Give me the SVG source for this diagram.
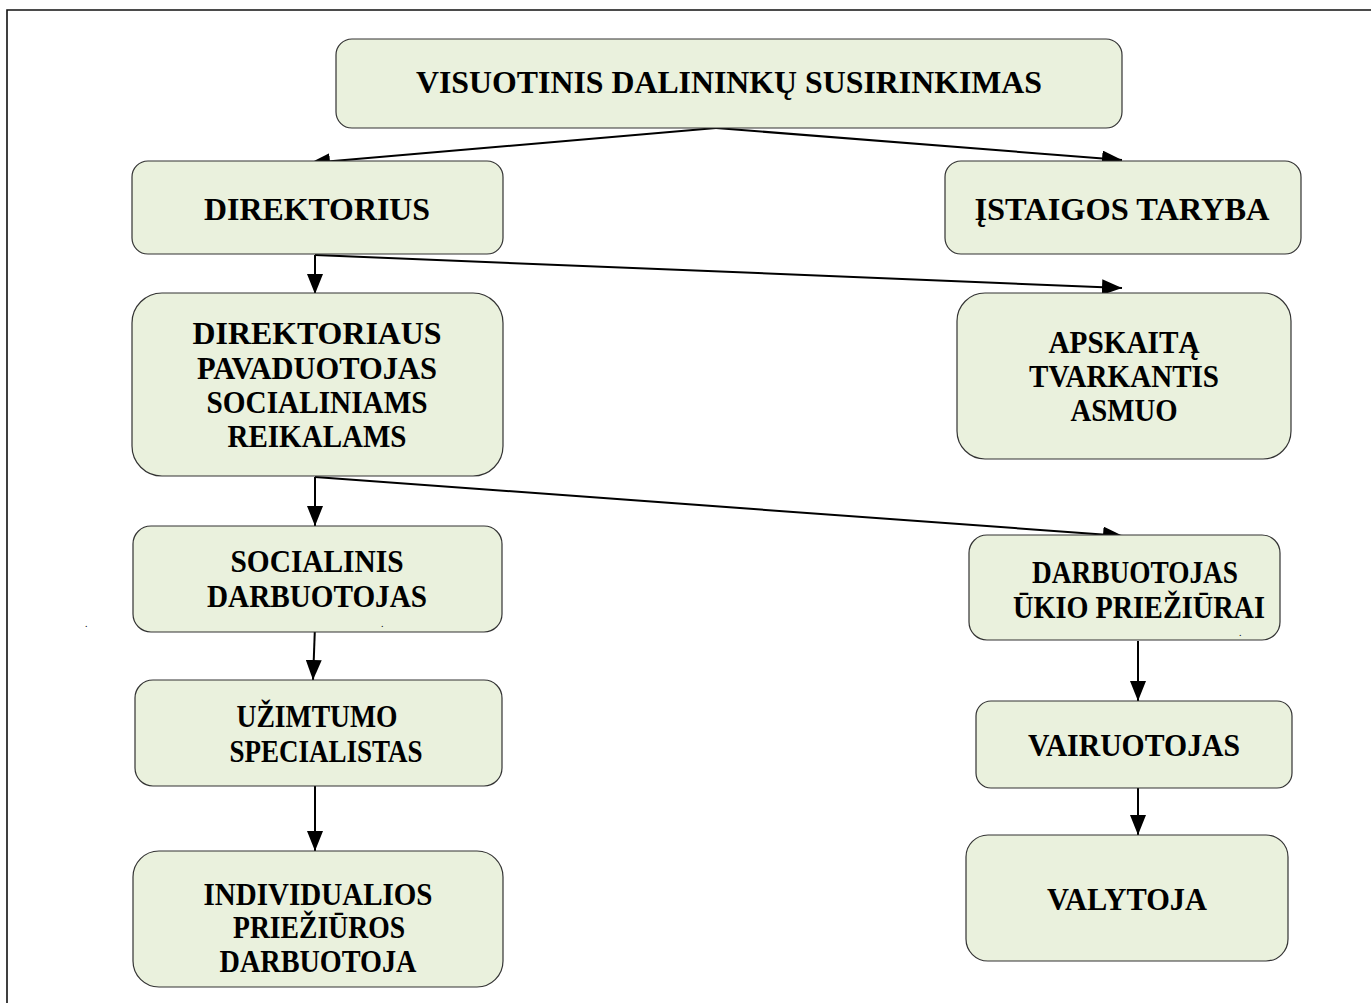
<svg xmlns="http://www.w3.org/2000/svg" width="1371" height="1003" viewBox="0 0 1371 1003">
<style>
.box{fill:#EAF1DD;stroke:#333;stroke-width:1.2}
.t{font-family:"Liberation Serif","Times New Roman",serif;font-weight:bold;font-size:32px;fill:#000;text-anchor:middle}
.dot{font-family:"Liberation Serif","Times New Roman",serif;font-size:10px;fill:#000}
.c{stroke:#000;stroke-width:2;fill:none}
</style>
<defs>
<marker id="ah" markerUnits="userSpaceOnUse" markerWidth="20" markerHeight="16" viewBox="0 0 20 16" refX="20" refY="8" orient="auto">
<path d="M0,0 L20,8 L0,16 Z" fill="#000"/>
</marker>
</defs>
<rect width="1371" height="1003" fill="#fff"/>
<path d="M1371,10 H7 V1003" fill="none" stroke="#111" stroke-width="1.6"/>
<g id="connectors">
<line class="c" x1="716" y1="128" x2="310" y2="163" marker-end="url(#ah)"/>
<line class="c" x1="716" y1="128" x2="1122" y2="160" marker-end="url(#ah)"/>
<line class="c" x1="315" y1="255" x2="315" y2="294" marker-end="url(#ah)"/>
<line class="c" x1="315" y1="255" x2="1122" y2="288" marker-end="url(#ah)"/>
<line class="c" x1="315" y1="477" x2="315" y2="526" marker-end="url(#ah)"/>
<line class="c" x1="315" y1="477" x2="1123" y2="536" marker-end="url(#ah)"/>
<line class="c" x1="315" y1="626" x2="313" y2="680" marker-end="url(#ah)"/>
<line class="c" x1="315" y1="786" x2="315" y2="851" marker-end="url(#ah)"/>
<line class="c" x1="1138" y1="641" x2="1138" y2="701" marker-end="url(#ah)"/>
<line class="c" x1="1138" y1="788" x2="1138" y2="835" marker-end="url(#ah)"/>
</g>
<g id="n-visuotinis">
<rect class="box" x="336" y="39" width="786" height="89" rx="16"/>
<text class="t" x="729" y="93" textLength="626" lengthAdjust="spacingAndGlyphs">VISUOTINIS DALININKŲ SUSIRINKIMAS</text>
</g>
<g id="n-direktorius">
<rect class="box" x="132" y="161" width="371" height="93" rx="16"/>
<text class="t" x="317" y="220" textLength="226" lengthAdjust="spacingAndGlyphs">DIREKTORIUS</text>
</g>
<g id="n-taryba">
<rect class="box" x="945" y="161" width="356" height="93" rx="16"/>
<text class="t" x="1122" y="220" textLength="295" lengthAdjust="spacingAndGlyphs">ĮSTAIGOS TARYBA</text>
</g>
<g id="n-pavaduotojas">
<rect class="box" x="132" y="293" width="371" height="183" rx="30"/>
<text class="t" x="317" y="344" textLength="249" lengthAdjust="spacingAndGlyphs">DIREKTORIAUS</text>
<text class="t" x="317" y="379" textLength="240" lengthAdjust="spacingAndGlyphs">PAVADUOTOJAS</text>
<text class="t" x="317" y="413" textLength="221" lengthAdjust="spacingAndGlyphs">SOCIALINIAMS</text>
<text class="t" x="317" y="447" textLength="179" lengthAdjust="spacingAndGlyphs">REIKALAMS</text>
</g>
<g id="n-apskaita">
<rect class="box" x="957" y="293" width="334" height="166" rx="28"/>
<text class="t" x="1124" y="353" textLength="151" lengthAdjust="spacingAndGlyphs">APSKAITĄ</text>
<text class="t" x="1124" y="387" textLength="190" lengthAdjust="spacingAndGlyphs">TVARKANTIS</text>
<text class="t" x="1124" y="421" textLength="107" lengthAdjust="spacingAndGlyphs">ASMUO</text>
</g>
<g id="n-socialinis">
<rect class="box" x="133" y="526" width="369" height="106" rx="18"/>
<text class="t" x="317" y="572" textLength="173" lengthAdjust="spacingAndGlyphs">SOCIALINIS</text>
<text class="t" x="317" y="607" textLength="220" lengthAdjust="spacingAndGlyphs">DARBUOTOJAS</text>
<text class="dot" x="85" y="627">.</text>
<text class="dot" x="381" y="627">.</text>
</g>
<g id="n-ukio">
<rect class="box" x="969" y="535" width="311" height="105" rx="18"/>
<text class="t" x="1135" y="583" textLength="206" lengthAdjust="spacingAndGlyphs">DARBUOTOJAS</text>
<text class="t" x="1139" y="618" textLength="252" lengthAdjust="spacingAndGlyphs">ŪKIO PRIEŽIŪRAI</text>
<text class="dot" x="1239" y="636">.</text>
</g>
<g id="n-uzimtumo">
<rect class="box" x="135" y="680" width="367" height="106" rx="18"/>
<text class="t" x="317" y="727" textLength="161" lengthAdjust="spacingAndGlyphs">UŽIMTUMO</text>
<text class="t" x="326" y="762" textLength="193" lengthAdjust="spacingAndGlyphs">SPECIALISTAS</text>
</g>
<g id="n-vairuotojas">
<rect class="box" x="976" y="701" width="316" height="87" rx="15"/>
<text class="t" x="1134" y="756" textLength="212" lengthAdjust="spacingAndGlyphs">VAIRUOTOJAS</text>
</g>
<g id="n-individualios">
<rect class="box" x="133" y="851" width="370" height="136" rx="26"/>
<text class="t" x="318" y="905" textLength="229" lengthAdjust="spacingAndGlyphs">INDIVIDUALIOS</text>
<text class="t" x="319" y="938" textLength="172" lengthAdjust="spacingAndGlyphs">PRIEŽIŪROS</text>
<text class="t" x="318" y="972" textLength="197" lengthAdjust="spacingAndGlyphs">DARBUOTOJA</text>
</g>
<g id="n-valytoja">
<rect class="box" x="966" y="835" width="322" height="126" rx="22"/>
<text class="t" x="1127" y="910" textLength="160" lengthAdjust="spacingAndGlyphs">VALYTOJA</text>
</g>
</svg>
